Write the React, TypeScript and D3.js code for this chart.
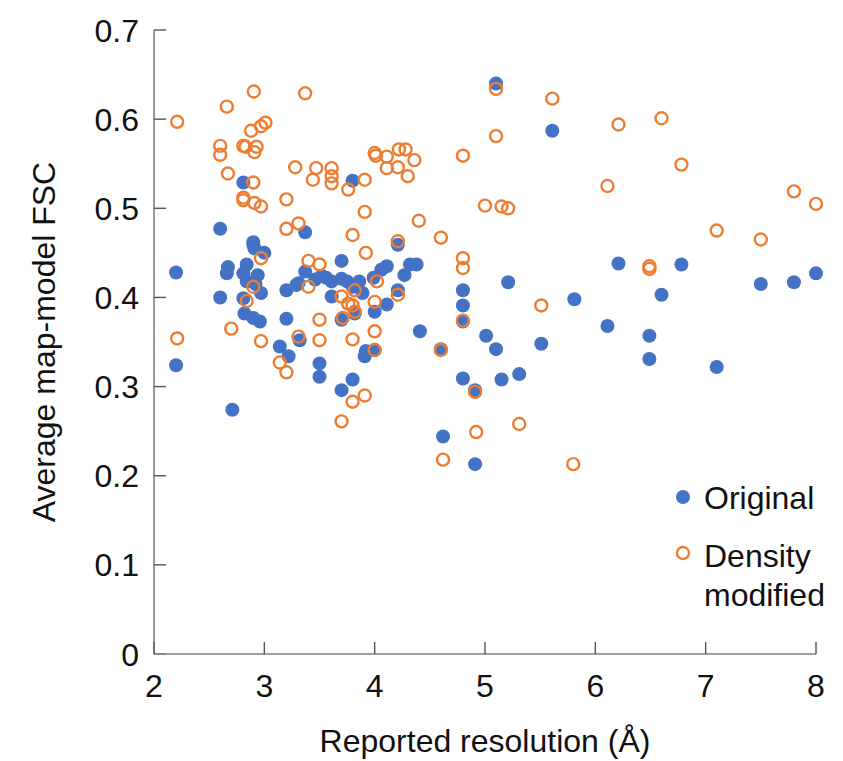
import React from "react";
import * as d3 from "d3";

const xTicks = [2, 3, 4, 5, 6, 7, 8];
const yTicks = [0, 0.1, 0.2, 0.3, 0.4, 0.5, 0.6, 0.7];
const yTickLabels = ["0", "0.1", "0.2", "0.3", "0.4", "0.5", "0.6", "0.7"];

const originalX = [
  2.2, 2.2, 2.6, 2.6, 2.67, 2.66, 2.71, 2.81, 2.84, 2.81, 2.84, 2.81, 2.82, 2.9, 2.9, 2.91,
  3.0, 2.94, 2.97, 2.9, 2.96, 2.92, 3.2, 3.2, 3.29, 3.37, 3.14, 3.22, 3.32, 3.5, 3.5, 3.7,
  3.8, 3.92, 3.91, 3.37, 3.31, 3.46, 3.52, 3.61, 3.7, 3.7, 3.61, 3.7, 3.8, 3.89, 3.82, 3.8,
  3.99, 4.0, 4.0, 4.06, 4.11, 4.11, 4.21, 4.21, 4.27, 4.32, 4.38, 4.41, 4.6, 4.62, 4.8, 4.8,
  4.8, 4.8, 4.91, 4.91, 5.01, 5.1, 5.1, 5.15, 5.21, 5.31, 5.51, 5.61, 5.81, 6.11, 6.21, 6.49,
  6.49, 6.6, 6.78, 7.1, 7.5, 7.8, 8.0, 3.56, 3.75, 3.86,
];
const originalY = [
  0.428, 0.324, 0.477, 0.4, 0.434, 0.427, 0.274, 0.529, 0.437, 0.427, 0.418, 0.399, 0.382, 0.459, 0.462, 0.455,
  0.45, 0.425, 0.405, 0.377, 0.373, 0.415, 0.408, 0.376, 0.414, 0.473, 0.345, 0.334, 0.352, 0.326, 0.311, 0.296,
  0.308, 0.34, 0.334, 0.429, 0.416, 0.42, 0.424, 0.418, 0.421, 0.441, 0.401, 0.375, 0.412, 0.405, 0.382, 0.531,
  0.422, 0.384, 0.341, 0.431, 0.435, 0.392, 0.459, 0.408, 0.425, 0.437, 0.437, 0.362, 0.342, 0.244, 0.408, 0.391,
  0.373, 0.309, 0.296, 0.213, 0.357, 0.342, 0.64, 0.308, 0.417, 0.314, 0.348, 0.587, 0.398, 0.368, 0.438, 0.357,
  0.331, 0.403, 0.437, 0.322, 0.415, 0.417, 0.427, 0.422, 0.418, 0.418,
];

const densityX = [
  2.21, 2.66, 2.905, 3.37, 3.01, 2.97, 2.88, 2.6, 2.6, 2.81, 2.83, 2.93, 2.91, 2.67, 2.9, 2.81,
  2.81, 2.91, 2.97, 3.2, 3.28, 3.47, 3.44, 3.61, 3.61, 3.61, 3.76, 3.91, 4.0, 4.01, 3.91, 3.8,
  3.92, 3.2, 3.31, 2.97, 3.4, 3.5, 2.9, 2.84, 3.4, 3.7, 3.82, 3.76, 3.8, 3.82, 3.71, 4.0,
  4.02, 3.5, 2.7, 2.21, 2.97, 3.5, 3.8, 4.0, 4.0, 3.14, 3.2, 3.8, 3.91, 3.7, 3.31, 5.1,
  5.1, 4.8, 4.11, 4.22, 4.28, 4.36, 4.11, 4.21, 4.3, 4.4, 4.6, 4.21, 5.0, 5.15, 5.21, 4.8,
  4.8, 4.21, 4.6, 4.8, 4.91, 5.51, 5.31, 4.92, 4.62, 5.8, 5.61, 6.21, 6.6, 6.78, 6.11, 7.8,
  8.0, 7.1, 7.5, 6.49, 6.49,
];
const densityY = [
  0.597, 0.614, 0.631, 0.629, 0.596, 0.592, 0.587, 0.57, 0.56, 0.57, 0.569, 0.569, 0.563, 0.539, 0.529, 0.512,
  0.509, 0.506, 0.502, 0.51, 0.546, 0.545, 0.532, 0.545, 0.536, 0.528, 0.521, 0.532, 0.562, 0.559, 0.496, 0.47,
  0.45, 0.477, 0.483, 0.444, 0.441, 0.437, 0.412, 0.396, 0.412, 0.401, 0.408, 0.393, 0.391, 0.384, 0.377, 0.395,
  0.418, 0.375, 0.365, 0.354, 0.351, 0.352, 0.353, 0.362, 0.341, 0.327, 0.316, 0.283, 0.29, 0.261, 0.356, 0.634,
  0.581, 0.559, 0.558, 0.566, 0.566, 0.554, 0.545, 0.546, 0.536, 0.486, 0.467, 0.463, 0.503, 0.502, 0.5, 0.444,
  0.433, 0.403, 0.341, 0.374, 0.294, 0.391, 0.258, 0.249, 0.218, 0.213, 0.623, 0.594, 0.601, 0.549, 0.525, 0.519,
  0.505, 0.475, 0.465, 0.435, 0.432,
];

const seriesNames = ["Original", "Density", "modified"];

const W = 843;
const H = 761;
const BLUE = "#4472C4";
const ORANGE = "#ED7D31";
const AXIS = "#808080";
const TEXT = "#111111";
const FONT = "'Liberation Sans', Arial, Helvetica, sans-serif";
const FS = 32;

export default function App() {
  const x = d3.scaleLinear().domain([2, 8]).range([154, 816]);
  const y = d3.scaleLinear().domain([0, 0.7]).range([654, 30]);
  const x0 = x(2);
  const y0 = y(0);

  const orig = originalX.map((v, i) => [v, originalY[i]]);
  const dens = densityX.map((v, i) => [v, densityY[i]]);

  return (
    <svg
      width={W}
      height={H}
      style={{ position: "absolute", left: 0, top: 0, background: "#fff" }}
      fontFamily={FONT}
    >
      <rect x={0} y={0} width={W} height={H} fill="#fff" />
      <line x1={x0} x2={x0} y1={y(0.7)} y2={y0} stroke={AXIS} strokeWidth={1.6} />
      <line x1={x0} x2={x(8)} y1={y0} y2={y0} stroke={AXIS} strokeWidth={1.6} />
      {yTicks.map((t, i) => (
        <g key={"yt" + i}>
          <line x1={x0} x2={x0 + 12} y1={y(t)} y2={y(t)} stroke={i === 0 ? AXIS : "#555"} strokeWidth={1.4} />
          <text x={139} y={y(t) + 11.5} textAnchor="end" fontSize={FS} fill={TEXT}>
            {yTickLabels[i]}
          </text>
        </g>
      ))}
      {xTicks.map((t, i) => (
        <g key={"xt" + i}>
          <line x1={x(t)} x2={x(t)} y1={y0} y2={y0 - 12} stroke="#555" strokeWidth={1.4} />
          <text x={x(t)} y={697} textAnchor="middle" fontSize={FS} fill={TEXT}>
            {t}
          </text>
        </g>
      ))}
      <text x={485} y={752} textAnchor="middle" fontSize={FS} fill={TEXT}>
        Reported resolution (Å)
      </text>
      <text
        transform={`translate(55,${y(0.35)}) rotate(-90)`}
        textAnchor="middle"
        fontSize={FS}
        fill={TEXT}
      >
        Average map-model FSC
      </text>
      {orig.map((d, i) => (
        <circle key={"o" + i} cx={x(d[0])} cy={y(d[1])} r={7} fill={BLUE} />
      ))}
      {dens.map((d, i) => (
        <circle
          key={"d" + i}
          cx={x(d[0])}
          cy={y(d[1])}
          r={6}
          fill="none"
          stroke={ORANGE}
          strokeWidth={2.4}
        />
      ))}
      <circle cx={683} cy={497} r={7} fill={BLUE} />
      <text x={704} y={509} fontSize={FS} fill={TEXT}>
        {seriesNames[0]}
      </text>
      <circle cx={683} cy={553} r={6} fill="none" stroke={ORANGE} strokeWidth={2.4} />
      <text x={704} y={567} fontSize={FS} fill={TEXT}>
        {seriesNames[1]}
      </text>
      <text x={704} y={606} fontSize={FS} fill={TEXT}>
        {seriesNames[2]}
      </text>
    </svg>
  );
}
